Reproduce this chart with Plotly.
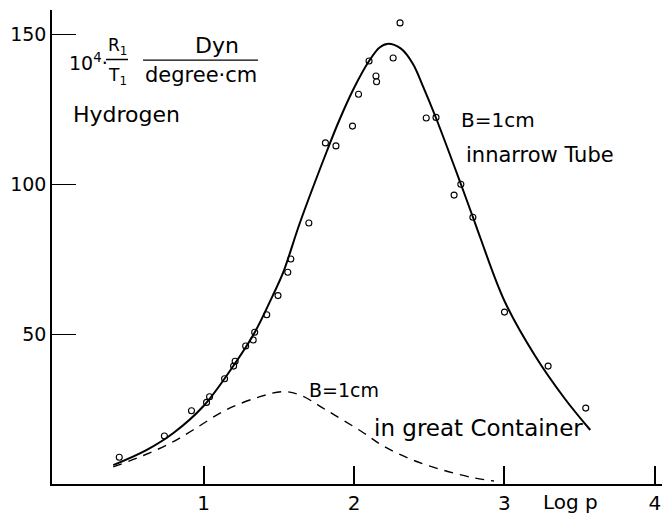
import plotly.graph_objects as go

# measured points (open circles)
meas_x = [0.44, 0.74, 0.92, 1.02, 1.04, 1.14, 1.20, 1.21, 1.28, 1.33, 1.34, 1.42, 1.495,
          1.56, 1.58, 1.70, 1.81, 1.88, 1.99, 2.03, 2.10, 2.146, 2.15, 2.26, 2.306,
          2.48, 2.545, 2.665, 2.71, 2.79, 3.00, 3.29, 3.54]
meas_y = [8.9, 16.0, 24.4, 27.2, 29.1, 35.1, 39.3, 40.9, 46.0, 48.0, 50.6, 56.4, 62.8,
          70.6, 75.0, 87.0, 113.7, 112.7, 119.3, 129.9, 141.0, 136.0, 134.1, 142.0, 153.7,
          122.0, 122.2, 96.3, 99.9, 88.9, 57.3, 39.3, 25.3]

# solid curve: B = 1 cm in narrow tube
solid_x = [0.40, 0.62, 0.80, 1.00, 1.20, 1.34, 1.46, 1.53, 1.64, 1.82, 1.90, 2.00, 2.10,
           2.17, 2.22, 2.31, 2.39, 2.46, 2.545, 2.71, 2.79, 2.84, 3.00, 3.20, 3.40, 3.57]
solid_y = [6.3, 11.3, 17.0, 26.0, 39.5, 50.5, 62.8, 70.6, 87.0, 111.0, 121.0, 132.0, 141.0,
           145.5, 146.7, 145.2, 140.2, 132.4, 122.0, 100.0, 89.0, 82.0, 61.0, 43.0, 28.5, 18.0]

# dashed curve: B = 1 cm in great container
dash_x = [0.40, 0.60, 0.78, 0.93, 1.15, 1.375, 1.53, 1.64, 1.82, 2.05, 2.20, 2.39, 2.60, 2.80, 2.93]
dash_y = [5.7, 9.5, 13.6, 18.0, 24.7, 29.1, 30.8, 29.7, 24.5, 17.5, 12.5, 8.0, 4.5, 2.0, 1.0]

x_ticks = [1, 2, 3, 4]
x_tick_text = ["1", "2", "3", "4"]
y_ticks = [50, 100, 150]
y_tick_text = ["50", "100", "150"]

FONT = "DejaVu Sans"

fig = go.Figure()
fig.add_trace(go.Scatter(x=solid_x, y=solid_y, mode="lines",
                         line=dict(color="black", width=2, shape="spline", smoothing=1.0),
                         hoverinfo="skip"))
fig.add_trace(go.Scatter(x=dash_x, y=dash_y, mode="lines",
                         line=dict(color="black", width=1.4, dash="9px,7px", shape="spline"),
                         hoverinfo="skip"))
fig.add_trace(go.Scatter(x=meas_x, y=meas_y, mode="markers",
                         marker=dict(symbol="circle-open", size=6, color="black",
                                     line=dict(width=1.1, color="black")),
                         cliponaxis=False))

def txt(x, y, s, size=21, xanchor="left"):
    fig.add_annotation(x=x, y=y, xref="x", yref="y", text=s, showarrow=False,
                       xanchor=xanchor, yanchor="middle",
                       font=dict(family=FONT, size=size, color="black"))

txt(0.09, 140.7, "10<sup>4</sup>·", 19)
txt(0.425, 145.8, "R<sub>1</sub>", 17, "center")
txt(0.425, 136.0, "T<sub>1</sub>", 17, "center")
txt(1.09, 146.2, "Dyn", 22, "center")
txt(0.98, 136.3, "degree·cm", 21, "center")
txt(0.12, 123.3, "Hydrogen", 22)
txt(2.70, 121.3, "B=1cm", 20)
txt(2.73, 109.7, "innarrow Tube", 21)
txt(1.69, 31.3, "B=1cm", 19)
txt(2.12, 18.7, "in great Container", 23)

fig.add_annotation(x=3.44, y=0, xref="x", yref="paper", text="Log p", showarrow=False,
                   xanchor="center", yanchor="top", yshift=-4,
                   font=dict(family=FONT, size=20, color="black"))

# fraction bars
fig.add_shape(type="line", xref="x", yref="y", x0=0.352, x1=0.498, y0=141.5, y1=141.5,
              line=dict(color="black", width=1.5))
fig.add_shape(type="line", xref="x", yref="y", x0=0.598, x1=1.362, y0=141.3, y1=141.3,
              line=dict(color="black", width=1.2))

# page body has an 8px margin, so the figure is 662x506 placed at (8, 8)
fig.update_layout(
    width=662, height=506,
    margin=dict(l=44, r=0, t=2, b=30),
    paper_bgcolor="white", plot_bgcolor="white",
    showlegend=False,
    font=dict(family=FONT, size=20, color="black"),
    xaxis=dict(range=[-0.007, 4.1], showgrid=False, zeroline=False,
               showline=True, linecolor="black", linewidth=2,
               tickmode="array", tickvals=x_ticks, ticktext=x_tick_text,
               ticks="inside", ticklen=18, tickwidth=1.5, tickcolor="black",
               tickfont=dict(family=FONT, size=20, color="black")),
    yaxis=dict(range=[0, 158], showgrid=False, zeroline=False,
               showline=True, linecolor="black", linewidth=1.5,
               tickmode="array", tickvals=y_ticks, ticktext=y_tick_text,
               ticks="inside", ticklen=24, tickwidth=1.2, tickcolor="black",
               tickfont=dict(family=FONT, size=19, color="black")),
)

fig.write_html("out.html")
